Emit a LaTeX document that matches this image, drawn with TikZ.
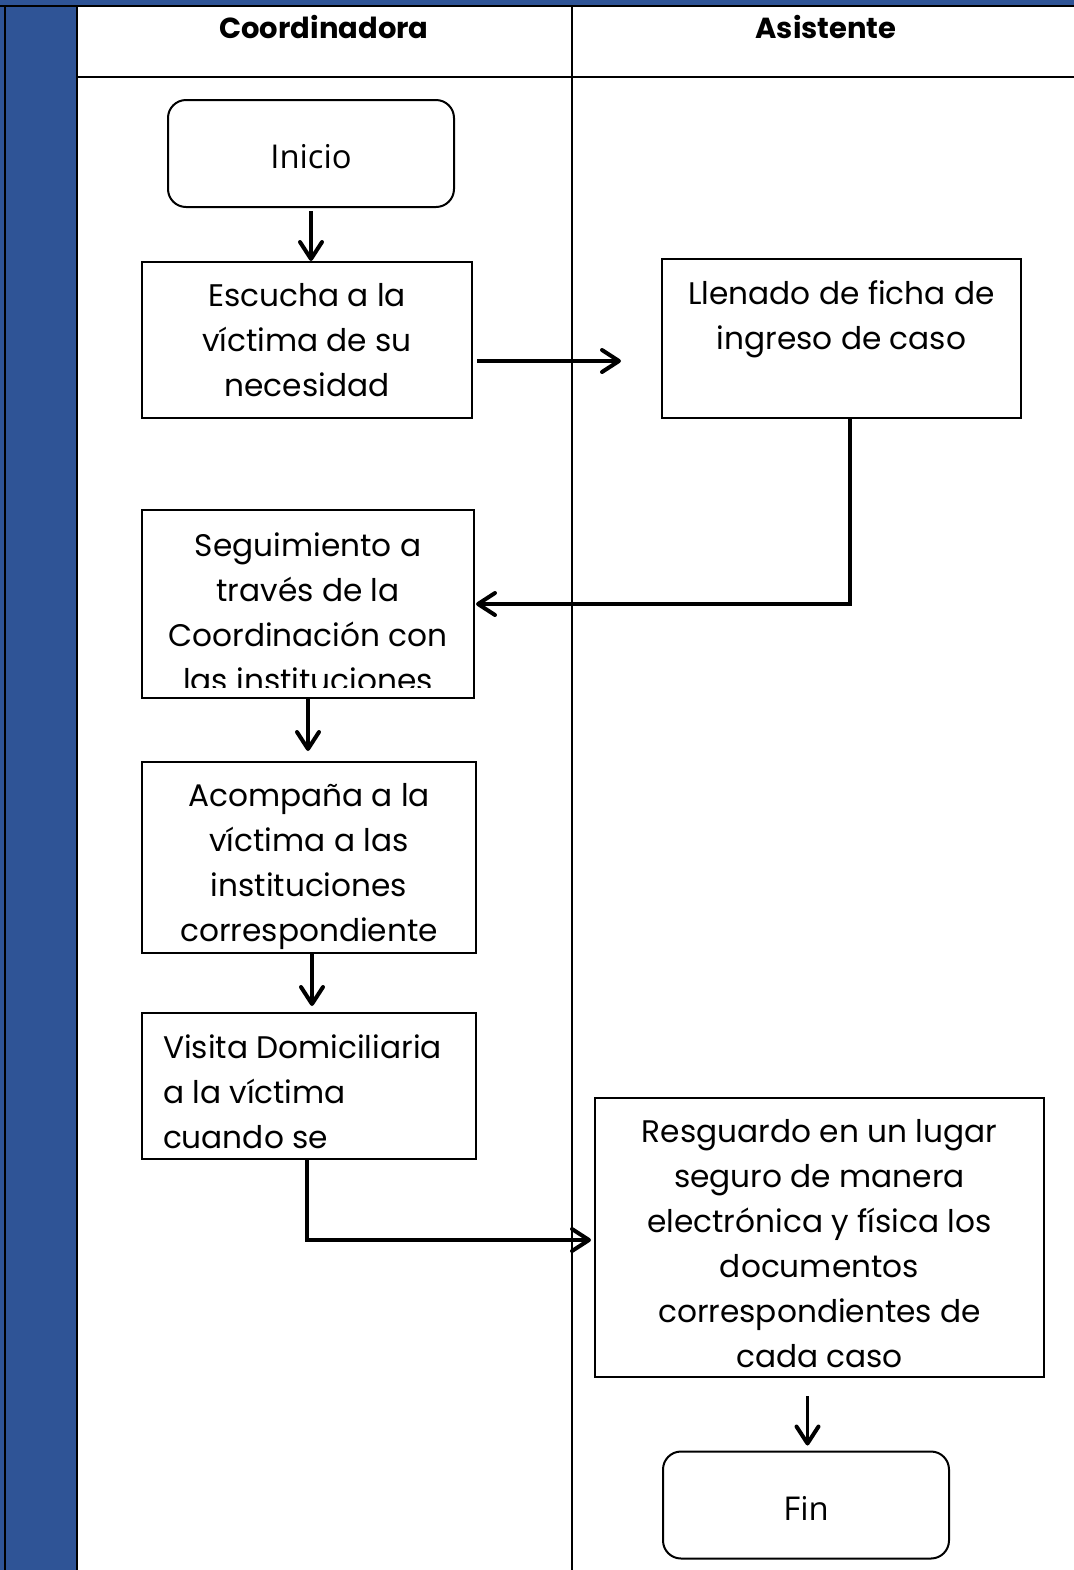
\documentclass[tikz,border=0pt]{standalone}
\usepackage{fontspec}
\setmainfont{Poppins}
\newfontfamily\segoe{Open Sans}
\usetikzlibrary{arrows.meta,positioning}
\definecolor{azulbanda}{RGB}{47,84,150}
\newcommand{\celda}[3]{\parbox[c][\dimexpr#1-21.5pt\relax][t]{#2}{#3}}
\tikzset{
  caja/.style={draw, line width=1pt, rectangle, inner sep=0pt,
    font=\fontsize{15.6}{22.5}\selectfont},
  terminal/.style={draw, line width=1pt, rounded corners=9pt, inner sep=0pt,
    text height=15pt, text depth=0pt,
    minimum width=143pt, minimum height=53.5pt, font=\segoe\fontsize{16.4}{18}\selectfont},
  flecha/.style={line width=1.9pt, -{Straight Barb[length=8.5pt,width=11pt,line width=2pt,round]}},
  tabla/.style={line width=1.25pt},
  titulo/.style={inner sep=0pt, font=\bfseries\fontsize{14.5}{16}\selectfont}
}

\begin{document}
\begin{tikzpicture}[x=0.5pt,y=-0.5pt]
  \useasboundingbox (0,0) rectangle (1074,1570);
  \fill[azulbanda] (0,0) rectangle (1074,6);
  \fill[azulbanda] (0,6) rectangle (77,1570);
  \draw[tabla] (0,6) -- (1074,6);
  \draw[tabla] (5,6) -- (5,1570);
  \draw[tabla] (77,6) -- (77,1570);
  \draw[tabla] (572,6) -- (572,1570);
  \draw[tabla] (77,77) -- (1074,77);
  \node[titulo] (coord) at (324,27) {Coordinadora};
  \node[titulo] (asist) at (826,27) {Asistente};

  \node[terminal] (inicio) at (311,153.5) {Inicio};
  \node[caja, minimum width=165pt, minimum height=78pt] (escucha) at (307,340)
    {\celda{78pt}{165pt}{\centering Escucha a la\\víctima de su\\necesidad}};
  \node[caja, minimum width=179.5pt, minimum height=79.5pt] (llenado) at (841.5,338.5)
    {\celda{79.5pt}{179pt}{\centering Llenado de ficha de\\ingreso de caso}};
  \begin{scope}
    \clip (143,511) rectangle (473,687);
    \node[caja, draw=none, minimum width=165pt, minimum height=93pt] (seguim) at (308,604)
      {\celda{93pt}{165pt}{\centering Seguimiento a\\través de la\\Coordinación con\\las instituciones}};
  \end{scope}
  \draw[line width=1pt] (seguim.south west) rectangle (seguim.north east);
  \node[caja, minimum width=167pt, minimum height=95.5pt] (acomp) at (309,857.5)
    {\celda{95.5pt}{167pt}{\centering Acompaña a la\\víctima a las\\instituciones\\correspondiente}};
  \node[caja, minimum width=167pt, minimum height=73pt] (visita) at (309,1086)
    {\celda{73pt}{146pt}{\raggedright Visita Domiciliaria\\a la víctima\\cuando se}};
  \node[caja, minimum width=224.5pt, minimum height=139.5pt] (resg) at (819.5,1237.5)
    {\celda{139.5pt}{224pt}{\centering Resguardo en un lugar\\seguro de manera\\electrónica y física los\\documentos\\correspondientes de\\cada caso}};
  \node[terminal] (fin) at (806,1505) {Fin};

  \coordinate (libre) at (621,361);
  \draw[flecha, shorten <=1.5pt] (inicio.south) -- (inicio.south |- escucha.north);
  \draw[flecha] ([xshift=2pt]escucha.east |- libre) -- (libre);
  \draw[flecha] ([xshift=4.25pt]llenado.south) |- ([xshift=1pt]seguim.east);
  \draw[flecha] (seguim.south) -- ([yshift=5pt]seguim.south |- acomp.north);
  \draw[flecha] ([xshift=1.5pt]acomp.south) -- ([xshift=1.5pt,yshift=3pt]acomp.south |- visita.north);
  \draw[flecha] ([xshift=-1pt]visita.south) |- ([xshift=-1.5pt,yshift=-1.25pt]resg.west);
  \draw[flecha, shorten <=9pt, shorten >=2.5pt] ([xshift=-6pt]resg.south) -- ([xshift=-6pt]resg.south |- fin.north);
\end{tikzpicture}
\end{document}
